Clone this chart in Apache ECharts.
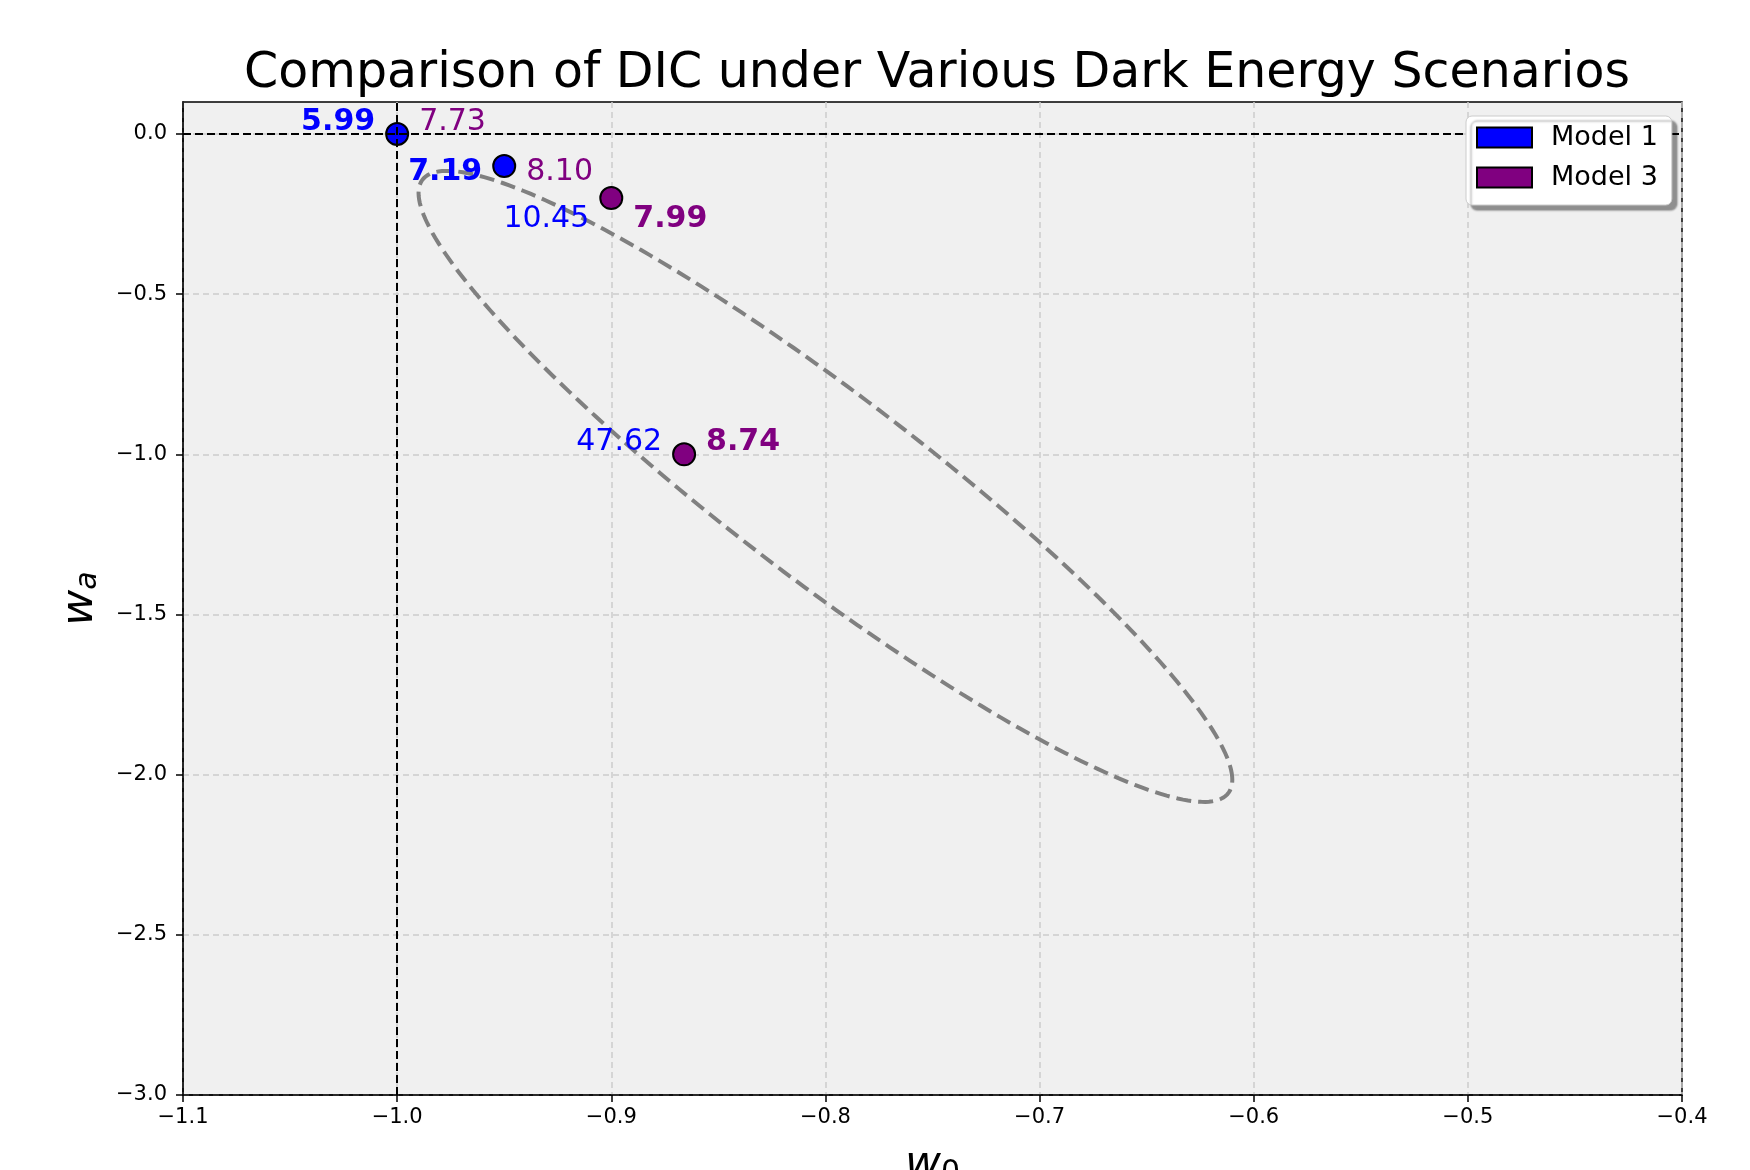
<!DOCTYPE html>
<html>
<head>
<meta charset="utf-8">
<title>DIC comparison</title>
<script src="https://cdn.jsdelivr.net/npm/echarts@6/dist/echarts.min.js"></script>
<style>
  html, body { margin: 0; padding: 0; background: #fff; }
  #chart { width: 1750px; height: 1170px; }
</style>
</head>
<body>
<div id="chart"></div>
<script>
// points in the (w0, wa) plane
const w0Values = [-1.0, -0.95, -0.9, -0.866]
const waValues = [0.0, -0.1, -0.2, -1.0]
// DIC of both models at every point
const dicModel1 = [5.99, 7.19, 10.45, 47.62]
const dicModel3 = [7.73, 8.10, 7.99, 8.74]
// dashed confidence ellipse: centre, half extent on w0 / wa, correlation
const ellipseCenter = [-0.8, -1.1]
const ellipseHalf = [0.19, 0.985]
const ellipseRho = -0.93
// tick labels
const xTicks = [-1.1, -1.0, -0.9, -0.8, -0.7, -0.6, -0.5, -0.4]
const yTicks = [-3.0, -2.5, -2.0, -1.5, -1.0, -0.5, 0.0]
const yTop = 0.1

// label nudges (pixels), only layout
const labelDx = 22
const labelDy = [-12, 6, 21, -12]

const FONT = 'DejaVu Sans'
const BLUE = '#0000ff'
const PURPLE = '#800080'

const fmt = v => (v < 0 ? '\u2212' : '') + Math.abs(v).toFixed(1)

// 1. 初始化
const chart = echarts.init(document.getElementById('chart'))

// 2. 数据拆分：点的颜色按 DIC 更小的模型
const pts1 = []
const pts3 = []
w0Values.forEach((x, i) => {
  if (dicModel1[i] <= dicModel3[i]) pts1.push([x, waValues[i]])
  else pts3.push([x, waValues[i]])
})

const labelData = []
w0Values.forEach((x, i) => {
  const best1 = dicModel1[i] <= dicModel3[i]
  labelData.push({
    value: [x, waValues[i]],
    label: {
      formatter: dicModel1[i].toFixed(2),
      position: [-labelDx, labelDy[i]],
      align: 'right',
      color: BLUE,
      fontWeight: best1 ? 'bold' : 'normal'
    }
  })
  labelData.push({
    value: [x, waValues[i]],
    label: {
      formatter: dicModel3[i].toFixed(2),
      position: [labelDx, labelDy[i]],
      align: 'left',
      color: PURPLE,
      fontWeight: best1 ? 'normal' : 'bold'
    }
  })
})

const axisCommon = {
  axisLine: { show: true, onZero: false, lineStyle: { color: '#000', width: 1.5 } },
  axisTick: { show: true, inside: false, length: 7, lineStyle: { color: '#000', width: 1.5 } },
  splitLine: { show: true, lineStyle: { color: '#cccccc', width: 1.5, type: [6, 4] } }
}

// 轴名：斜体 w 加下标
const nameRich = (subItalic, subLine) => ({
  w: { fontFamily: FONT, fontStyle: 'italic', fontSize: 44, lineHeight: 44, color: '#000' },
  s: { fontFamily: FONT, fontStyle: subItalic ? 'italic' : 'normal', fontSize: 30, lineHeight: subLine, verticalAlign: 'bottom', color: '#000' }
})

const options = {
  animation: false,
  backgroundColor: '#ffffff',
  textStyle: { fontFamily: FONT },
  title: {
    text: 'Comparison of DIC under Various Dark Energy Scenarios',
    left: 932,
    top: 45,
    textAlign: 'center',
    textStyle: { fontFamily: FONT, fontSize: 49, fontWeight: 'normal', color: '#000' }
  },
  grid: {
    left: 183, right: 68, top: 102, bottom: 75,
    outerBoundsMode: 'none',
    containLabel: false,
    show: true,
    backgroundColor: '#f0f0f0',
    borderColor: '#000',
    borderWidth: 1.5
  },
  legend: {
    orient: 'vertical',
    z: 20,
    left: 1466,
    top: 116,
    data: ['Model 1', 'Model 3'],
    icon: 'rect',
    itemWidth: 55,
    itemHeight: 20,
    itemGap: 13,
    padding: [8, 14, 14, 10],
    backgroundColor: '#ffffff',
    borderColor: '#cccccc',
    borderWidth: 1,
    borderRadius: 6,
    shadowColor: 'rgba(0, 0, 0, 0.4)',
    shadowBlur: 2,
    shadowOffsetX: 5,
    shadowOffsetY: 5,
    formatter: name => '{t|' + name + '}',
    textStyle: {
      fontFamily: FONT,
      fontSize: 27,
      color: '#000',
      rich: { t: { fontFamily: FONT, fontSize: 27, color: '#000', padding: [0, 0, 0, 14], lineHeight: 26 } }
    }
  },
  xAxis: {
    type: 'value',
    min: xTicks[0],
    max: xTicks[xTicks.length - 1],
    interval: 0.1,
    ...axisCommon,
    axisTick: { ...axisCommon.axisTick, customValues: xTicks },
    axisLabel: { customValues: xTicks, formatter: fmt, fontFamily: FONT, fontSize: 21, color: '#000', margin: 12 },
    name: '{w|w}{s|0}',
    nameLocation: 'middle',
    nameGap: 49,
    nameTextStyle: { rich: nameRich(false, 24) }
  },
  yAxis: {
    type: 'value',
    min: yTicks[0],
    max: yTop,
    interval: 0.5,
    ...axisCommon,
    axisTick: { ...axisCommon.axisTick, customValues: yTicks },
    axisLabel: { customValues: yTicks, formatter: fmt, fontFamily: FONT, fontSize: 21, color: '#000', margin: 16 },
    name: '{w|w}{s|a}',
    nameLocation: 'middle',
    nameGap: 80,
    nameTextStyle: { rich: nameRich(true, 10) }
  },
  series: [
    {
      // 置信椭圆
      type: 'custom',
      name: 'ellipse',
      z: 2,
      silent: true,
      data: [ellipseCenter],
      renderItem: (params, api) => {
        const points = []
        const s = Math.sqrt(1 - ellipseRho * ellipseRho)
        for (let k = 0; k <= 240; k++) {
          const t = (k / 240) * Math.PI * 2
          const x = ellipseCenter[0] + ellipseHalf[0] * Math.cos(t)
          const y = ellipseCenter[1] + ellipseHalf[1] * (ellipseRho * Math.cos(t) + s * Math.sin(t))
          points.push(api.coord([x, y]))
        }
        return {
          type: 'polygon',
          shape: { points },
          style: { fill: 'none', stroke: '#808080', lineWidth: 4, lineDash: [15, 7] }
        }
      }
    },
    {
      type: 'scatter',
      name: 'Model 1',
      z: 3,
      data: pts1,
      symbolSize: 22,
      itemStyle: { color: BLUE, borderColor: '#000', borderWidth: 2, opacity: 1 }
    },
    {
      type: 'scatter',
      name: 'Model 3',
      z: 3,
      data: pts3,
      symbolSize: 22,
      itemStyle: { color: PURPLE, borderColor: '#000', borderWidth: 2, opacity: 1 }
    },
    {
      // 参考线 w0 = -1, wa = 0
      type: 'line',
      name: 'ref',
      z: 4,
      data: [],
      markLine: {
        silent: true,
        symbol: ['none', 'none'],
        label: { show: false },
        lineStyle: { color: '#000', width: 2, type: [8, 4] },
        data: [{ yAxis: 0 }, { xAxis: -1 }]
      }
    },
    {
      // 数值标签
      type: 'scatter',
      name: 'labels',
      z: 5,
      silent: true,
      symbolSize: 0,
      itemStyle: { opacity: 1 },
      data: labelData,
      label: {
        show: true,
        verticalAlign: 'middle',
        fontFamily: FONT,
        fontSize: 30
      }
    }
  ]
}

// 3. 设置 options
chart.setOption(options)
</script>
</body>
</html>
